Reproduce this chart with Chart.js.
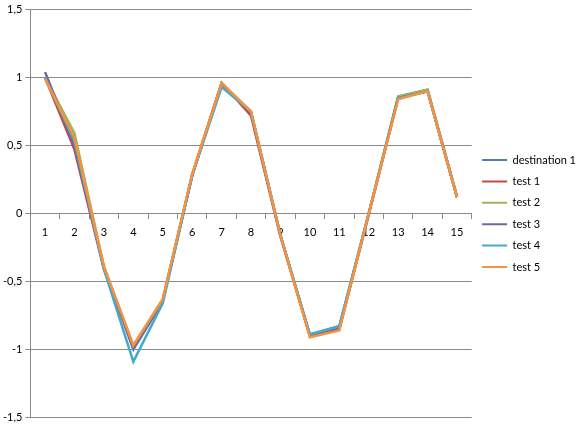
<!DOCTYPE html>
<html>
<head>
<meta charset="utf-8">
<script src="https://cdn.jsdelivr.net/npm/chart.js@4/dist/chart.umd.min.js"></script>
<style>
html,body{margin:0;padding:0;background:#fff;}
#wrap{width:580px;height:427px;}
</style>
</head>
<body>
<div id="wrap"><canvas id="c" width="580" height="427"></canvas></div>
<script>
const categories = ['1','2','3','4','5','6','7','8','9','10','11','12','13','14','15'];
const seriesNames = ['destination 1','test 1','test 2','test 3','test 4','test 5'];
const destination1 = [1.00, 0.52, -0.40, -1.00, -0.65, 0.28, 0.95, 0.74, -0.16, -0.89, -0.83, 0.00, 0.86, 0.91, 0.12];
const test1 = [1.00, 0.47, -0.41, -0.98, -0.64, 0.28, 0.96, 0.72, -0.17, -0.90, -0.85, -0.01, 0.85, 0.90, 0.12];
const test2 = [1.00, 0.59, -0.39, -0.97, -0.63, 0.29, 0.96, 0.75, -0.16, -0.90, -0.85, 0.00, 0.86, 0.91, 0.13];
const test3 = [1.04, 0.50, -0.40, -0.98, -0.64, 0.28, 0.96, 0.74, -0.16, -0.90, -0.85, 0.00, 0.85, 0.90, 0.12];
const test4 = [1.00, 0.53, -0.41, -1.09, -0.66, 0.28, 0.93, 0.75, -0.16, -0.89, -0.83, 0.00, 0.85, 0.90, 0.12];
const test5 = [0.99, 0.56, -0.39, -0.97, -0.63, 0.29, 0.96, 0.75, -0.16, -0.91, -0.86, 0.00, 0.84, 0.90, 0.12];
const yTicks = [-1.5, -1, -0.5, 0, 0.5, 1, 1.5];

const seriesData = [destination1, test1, test2, test3, test4, test5];
const colors = ['#4A7EBB', '#BE4B48', '#98B954', '#7D60A0', '#46AAC5', '#F69240'];
const gridColor = '#8a8a8a';
const fontFamily = 'Lato, "Open Sans", sans-serif';

const datasets = seriesData.map((d, i) => ({
  label: seriesNames[i],
  data: d,
  borderColor: colors[i],
  backgroundColor: colors[i],
  borderWidth: 2.5,
  pointRadius: 0,
  pointHoverRadius: 0,
  tension: 0,
  fill: false,
  order: seriesData.length - i
}));

new Chart(document.getElementById('c'), {
  type: 'line',
  data: { labels: categories, datasets },
  options: {
    responsive: false,
    animation: false,
    layout: { padding: { left: 0, top: 2, bottom: 2, right: -6 } },
    plugins: {
      tooltip: { enabled: false },
      legend: {
        position: 'right',
        align: 'center',
        labels: {
          boxWidth: 25,
          boxHeight: 2,
          padding: 10.4,
          color: '#000',
          font: { family: fontFamily, size: 11 },
          sort: (a, b) => a.datasetIndex - b.datasetIndex,
          generateLabels: (chart) => Chart.defaults.plugins.legend.labels.generateLabels(chart).map(it => Object.assign(it, { lineWidth: 0 }))
        }
      }
    },
    scales: {
      x: {
        type: 'category',
        position: { y: 0 },
        offset: true,
        grid: { offset: true, drawOnChartArea: false, drawTicks: true, tickLength: 5, color: gridColor },
        border: { color: gridColor, width: 1 },
        ticks: { color: '#000', padding: 7, maxRotation: 0, autoSkip: false, font: { family: fontFamily, size: 11 } }
      },
      y: {
        min: -1.5,
        max: 1.5,
        afterBuildTicks: (axis) => { axis.ticks = yTicks.map(v => ({ value: v })); },
        grid: { color: gridColor, drawTicks: true, tickLength: 5 },
        border: { color: gridColor, width: 1 },
        ticks: {
          color: '#000',
          padding: 3,
          font: { family: fontFamily, size: 11 },
          callback: (v) => String(v).replace('.', ',')
        }
      }
    }
  }
});
</script>
</body>
</html>
